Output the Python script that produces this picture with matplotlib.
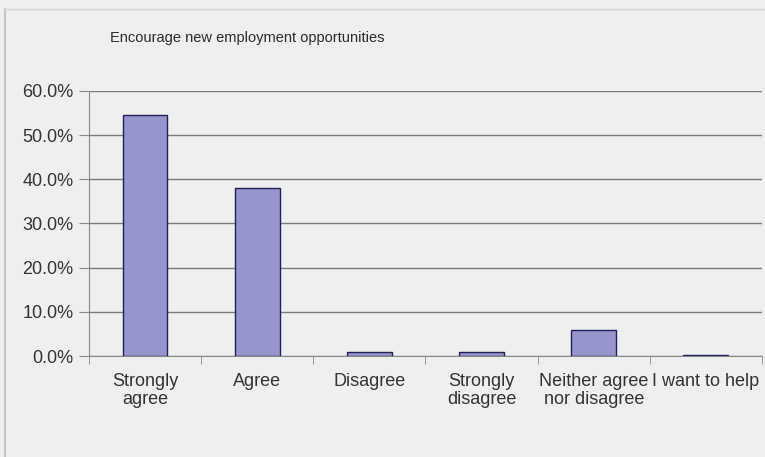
import matplotlib.pyplot as plt
from matplotlib.lines import Line2D
from matplotlib.ticker import FuncFormatter
import numpy as np

# survey answers
categories = ["Strongly\nagree", "Agree", "Disagree", "Strongly\ndisagree",
              "Neither agree\nnor disagree", "I want to help"]
percent = [54.5, 38.0, 0.8, 0.9, 5.8, 0.2]
title = "Encourage new employment opportunities"

plt.rcParams['font.family'] = ['Liberation Sans', 'DejaVu Sans']

bg = "#eeefef"
fig = plt.figure(figsize=(7.65, 4.57), dpi=100, facecolor=bg)
# frame lines (left and top) of the chart area
fig.lines.append(Line2D([0.006, 0.006], [0.0, 0.981], transform=fig.transFigure,
                        color="#bdbdbd", lw=1.2))
fig.lines.append(Line2D([0.006, 1.0], [0.981, 0.981], transform=fig.transFigure,
                        color="#d4d4d4", lw=1.0))

ax = fig.add_axes([0.1163, 0.221, 0.8797, 0.58])
ax.set_facecolor(bg)

x = np.arange(len(categories))
ax.bar(x, percent, width=0.4, color="#9696cc", edgecolor="#1f1f5a", linewidth=1.0, zorder=3)

ax.set_ylim(0, 60)
ax.set_yticks(np.arange(0, 61, 10))
ax.yaxis.set_major_formatter(FuncFormatter(lambda v, p: f"{v:.1f}%"))
ax.grid(axis="y", color="#7a7a7a", linewidth=1.0, zorder=0)

ax.set_xlim(-0.5, len(categories) - 0.5)
ax.set_xticks(x)
ax.set_xticklabels(categories, fontsize=13, color="#333333", linespacing=1.12)
ax.set_xticks(np.arange(-0.5, len(categories), 1.0), minor=True)
ax.tick_params(axis="x", which="major", length=0, pad=12)
ax.tick_params(axis="x", which="minor", length=6, color="#888888", direction="out")
ax.tick_params(axis="y", length=7, color="#888888", labelsize=13, labelcolor="#333333", pad=4)

for side in ["top", "right"]:
    ax.spines[side].set_visible(False)
ax.spines["left"].set_color("#888888")
ax.spines["bottom"].set_color("#888888")

fig.text(0.3235, 0.917, title, ha="center", va="center", fontsize=10.5, color="#2a2a2a")

fig.savefig("out.png", dpi=100, facecolor=bg)
